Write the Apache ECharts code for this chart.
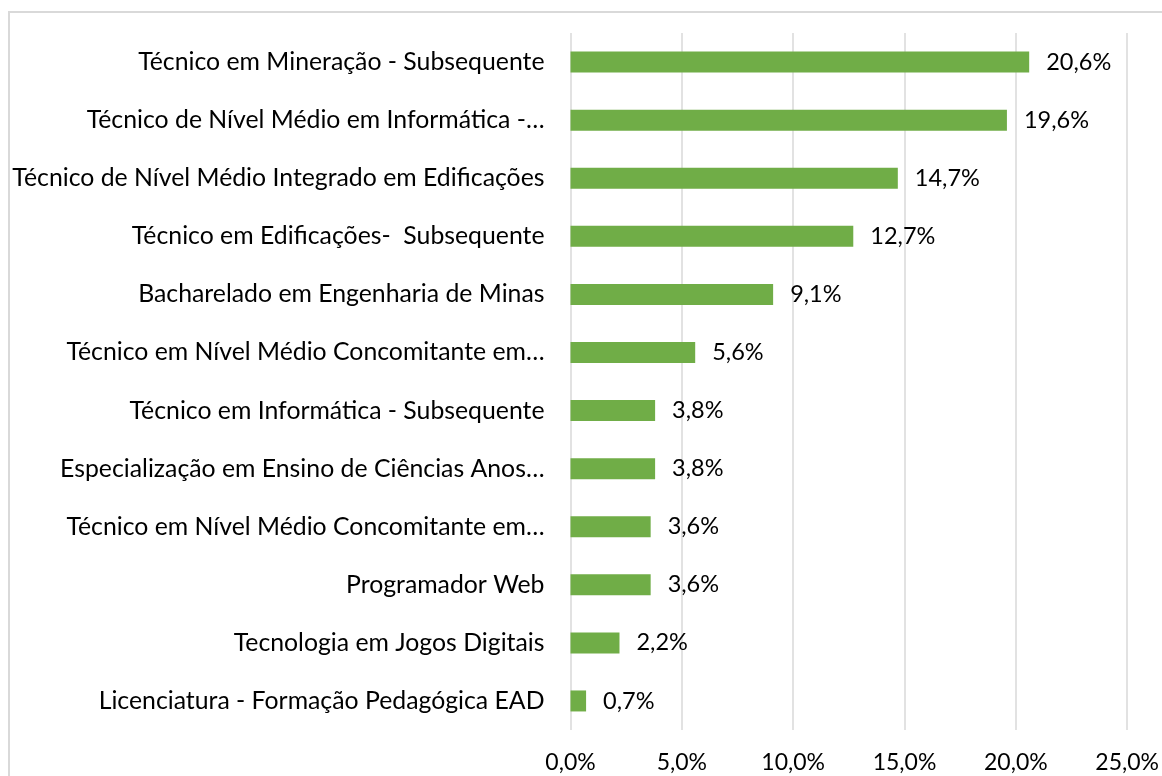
<!DOCTYPE html>
<html><head><meta charset="utf-8">
<script src="https://cdn.jsdelivr.net/npm/echarts@6/dist/echarts.min.js"></script>
<style>
html,body{margin:0;padding:0;background:#fff;overflow:hidden}
#frame{position:absolute;left:8px;top:11px;width:1160px;height:800px;border:2px solid #d9d9d9;box-sizing:border-box}
#c{position:absolute;left:0;top:0;width:1162px;height:776px}
</style></head>
<body>
<div id="frame"></div>
<div id="c"></div>
<script>
const categories = [
  "Técnico em Mineração - Subsequente",
  "Técnico de Nível Médio em Informática -…",
  "Técnico de Nível Médio Integrado em Edificações",
  "Técnico em Edificações-  Subsequente",
  "Bacharelado em Engenharia de Minas",
  "Técnico em Nível Médio Concomitante em…",
  "Técnico em Informática - Subsequente",
  "Especialização em Ensino de Ciências Anos…",
  "Técnico em Nível Médio Concomitante em…",
  "Programador Web",
  "Tecnologia em Jogos Digitais",
  "Licenciatura - Formação Pedagógica EAD"
];
const values = [20.6, 19.6, 14.7, 12.7, 9.1, 5.6, 3.8, 3.8, 3.6, 3.6, 2.2, 0.7];
const axisTicks = [0, 5, 10, 15, 20, 25];

const fmt = v => Number(v).toFixed(1).replace('.', ',') + '%';
const chart = echarts.init(document.getElementById('c'), null, {renderer: 'canvas'});
chart.setOption({
  animation: false,
  grid: {left: 570.5, right: 34.5, top: 33, bottom: 46, containLabel: false},
  xAxis: {
    type: 'value', min: axisTicks[0], max: axisTicks[axisTicks.length - 1], interval: 5,
    axisLine: {show: false}, axisTick: {show: false},
    splitLine: {show: true, lineStyle: {color: '#d9d9d9', width: 1.5}},
    axisLabel: {formatter: v => fmt(v), color: '#000', fontFamily: 'Lato', fontSize: 23, margin: 21}
  },
  yAxis: {
    type: 'category', data: categories, inverse: true,
    axisLine: {show: false}, axisTick: {show: false},
    axisLabel: {color: '#000', fontFamily: 'Lato', fontSize: 24.8, margin: 26, align: 'right'}
  },
  series: [{
    type: 'bar', data: values, barWidth: 21,
    itemStyle: {color: '#70ad47'},
    label: {show: true, position: 'right', distance: 17, formatter: p => fmt(p.value),
      color: '#000', fontFamily: 'Lato', fontSize: 23.5}
  }]
});
</script>
</body></html>
